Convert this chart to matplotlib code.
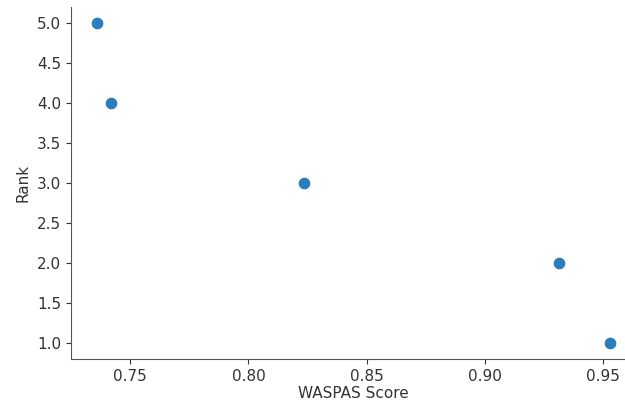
import matplotlib
matplotlib.use("Agg")
import matplotlib.pyplot as plt

# WASPAS scores and the rank of each alternative
waspas_score = [0.9528, 0.9314, 0.8236, 0.7418, 0.7359]
rank = [1.0, 2.0, 3.0, 4.0, 5.0]

plt.rcParams['font.size'] = 11

fig = plt.figure(figsize=(6.25, 4.03), dpi=100)
ax = fig.add_axes([0.1136, 0.1084, 0.9035, 0.8734])

ax.scatter(waspas_score, rank, s=55, color='#2c7dbb')

ax.set_xlabel("WASPAS Score", color='#333333', labelpad=1.5)
ax.set_ylabel("Rank", color='#333333', labelpad=5)
ax.set_xticks([0.75, 0.80, 0.85, 0.90, 0.95])
ax.set_yticks([1.0, 1.5, 2.0, 2.5, 3.0, 3.5, 4.0, 4.5, 5.0])
ax.tick_params(colors='#333333')

ax.spines['top'].set_visible(False)
ax.spines['right'].set_visible(False)
ax.spines['left'].set_color('#555555')
ax.spines['bottom'].set_color('#555555')

fig.savefig("out.png", dpi=100)
